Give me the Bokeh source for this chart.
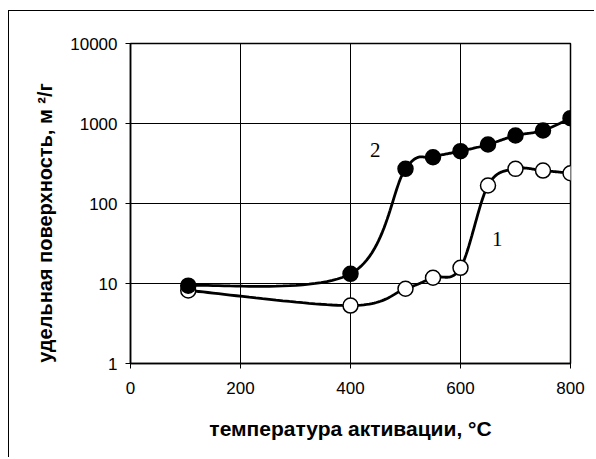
import numpy as np
from bokeh.plotting import figure
from bokeh.models import FixedTicker, PrintfTickFormatter, Label
from bokeh.embed import file_html
from bokeh.resources import INLINE

# data
temp = [105, 400, 500, 550, 600, 650, 700, 750, 800]
area_1 = [8.2, 5.3, 8.6, 11.8, 15.7, 168, 271, 258, 239]
area_2 = [9.4, 13.2, 271, 379, 451, 546, 708, 817, 1165]
x_ticks = [0, 200, 400, 600, 800]
y_ticks = [1, 10, 100, 1000, 10000]
x_title = "температура активации, °С"
y_title = "удельная поверхность, м ²/г"

XS, YS = 0.55, 80.0  # px per unit / per decade (for smoothing in screen-like space)


def smooth(xs, ys, n=30):
    X = np.array(xs, float) * XS
    Y = np.log10(np.array(ys, float)) * YS
    P = np.column_stack([X, Y])
    out = []
    m = len(P)
    for i in range(m - 1):
        p0 = P[i - 1] if i > 0 else P[i]
        p1 = P[i]
        p2 = P[i + 1]
        p3 = P[i + 2] if i + 2 < m else P[i + 1]
        c1 = p1 + (p2 - p0) / 6.0
        c2 = p2 - (p3 - p1) / 6.0
        t = np.linspace(0, 1, n)[:, None]
        seg = ((1 - t) ** 3) * p1 + 3 * ((1 - t) ** 2) * t * c1 + 3 * (1 - t) * t ** 2 * c2 + t ** 3 * p2
        out.append(seg if i == 0 else seg[1:])
    S = np.vstack(out)
    return S[:, 0] / XS, 10 ** (S[:, 1] / YS)


p = figure(width=586, height=447, x_range=(0, 800), y_range=(1, 10000),
           y_axis_type="log", output_backend="svg", toolbar_location=None,
           min_border_left=121, min_border_right=25, min_border_top=32, min_border_bottom=95)
p.styles = {"margin-left": "8px", "margin-top": "10px",
            "border-left": "1.5px solid #000", "border-top": "1.5px solid #000"}
p.background_fill_color = "white"
p.border_fill_color = "white"
p.outline_line_color = "black"
p.outline_line_width = 1.5

font = "Liberation Sans"
for ax in (p.xaxis[0], p.yaxis[0]):
    ax.axis_line_color = "black"
    ax.axis_line_width = 1.5
    ax.major_tick_line_color = "black"
    ax.major_tick_line_width = 1
    ax.major_tick_in = 0
    ax.major_tick_out = 5
    ax.minor_tick_line_color = None
    ax.major_label_text_font = font
    ax.major_label_text_font_size = "17px"
    ax.major_label_text_color = "black"
    ax.axis_label_text_font = font
    ax.axis_label_text_font_style = "bold"
    ax.axis_label_text_color = "black"

p.xaxis.axis_label_text_font_size = "21px"
p.yaxis.axis_label_text_font_size = "20px"
p.xaxis.ticker = FixedTicker(ticks=x_ticks)
p.yaxis.ticker = FixedTicker(ticks=y_ticks)
p.yaxis.formatter = PrintfTickFormatter(format="%d")
p.xaxis.axis_label = x_title
p.yaxis.axis_label = y_title + "\u00a0" * 7
p.xaxis.major_label_standoff = 13
p.yaxis.major_label_standoff = 8
p.xaxis.axis_label_standoff = 20
p.yaxis.axis_label_standoff = 11

p.xgrid.ticker = FixedTicker(ticks=x_ticks)
p.ygrid.ticker = FixedTicker(ticks=y_ticks)
for g in (p.xgrid[0], p.ygrid[0]):
    g.grid_line_color = "black"
    g.grid_line_width = 1
    g.grid_line_alpha = 1

sx1, sy1 = smooth(temp, area_1)
sx2, sy2 = smooth(temp, area_2)
p.line(sx1, sy1, line_color="black", line_width=2.8)
p.line(sx2, sy2, line_color="black", line_width=2.8)
p.scatter(temp, area_1, size=15, fill_color="white", line_color="black", line_width=1.5)
p.scatter(temp, area_2, size=15, fill_color="black", line_color="black", line_width=1.5)

p.add_layout(Label(x=445, y=460, text="2", text_font="Liberation Serif", text_font_size="21px",
                   text_align="center", text_baseline="middle", text_color="black"))
p.add_layout(Label(x=667, y=36.5, text="1", text_font="Liberation Serif", text_font_size="21px",
                   text_align="center", text_baseline="middle", text_color="black"))

open("out.html", "w").write(file_html(p, INLINE))
